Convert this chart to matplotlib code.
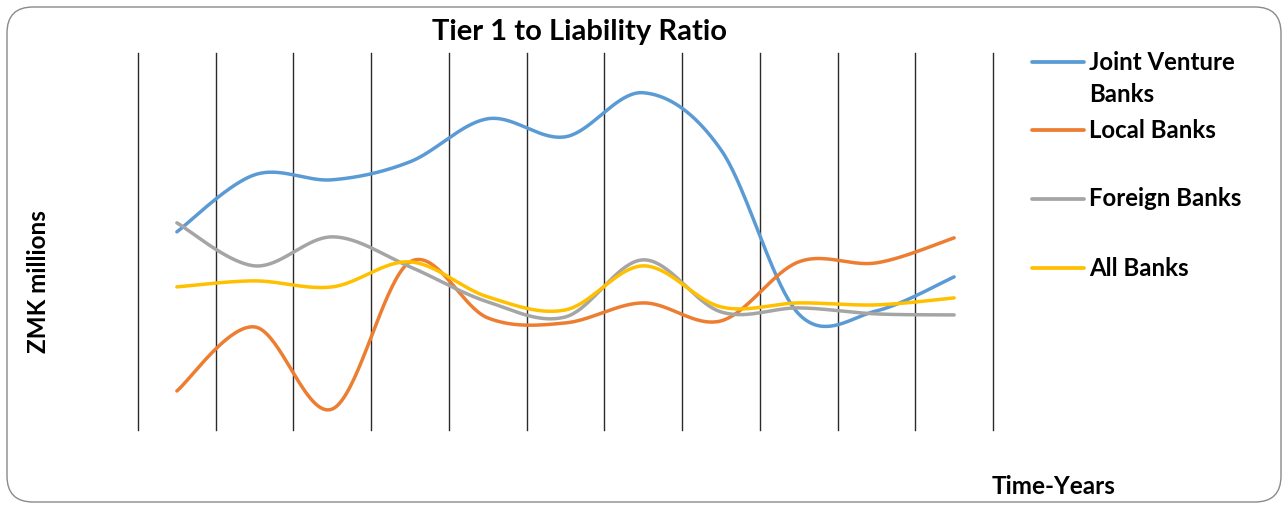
import numpy as np
import matplotlib
matplotlib.use("Agg")
import matplotlib.pyplot as plt
from matplotlib.patches import FancyBboxPatch
from matplotlib.lines import Line2D

# ---- data (arbitrary units; no scale shown) ----
periods = np.arange(11)
joint_venture = [19.8, 25.5, 25.0, 26.8, 31.1, 29.3, 33.7, 28.0, 11.6, 11.9, 15.3]
local_banks   = [3.9, 10.3, 2.1, 16.8, 11.2, 10.7, 12.7, 10.9, 16.8, 16.7, 19.2]
foreign_banks = [20.7, 16.4, 19.3, 16.3, 12.8, 11.3, 17.0, 11.8, 12.2, 11.6, 11.5]
all_banks     = [14.3, 14.9, 14.3, 16.8, 13.3, 12.0, 16.4, 12.3, 12.7, 12.5, 13.2]

series_names = ["Joint Venture\nBanks", "Local Banks", "Foreign Banks", "All Banks"]
series_values = [joint_venture, local_banks, foreign_banks, all_banks]
series_colors = ["#5B9BD5", "#ED7D31", "#A5A5A5", "#FFC000"]

title = "Tier 1 to Liability Ratio"
ylabel = "ZMK millions"
xlabel = "Time-Years"

FONT = ["Lato", "DejaVu Sans"]


def smooth(x, y, n=40):
    pts = np.column_stack([np.asarray(x, float), np.asarray(y, float)])
    m = len(pts)
    out = [pts[0]]
    t = np.linspace(0, 1, n)[1:, None]
    for i in range(m - 1):
        p0 = pts[i - 1] if i > 0 else pts[i]
        p1 = pts[i]
        p2 = pts[i + 1]
        p3 = pts[i + 2] if i + 2 < m else pts[i + 1]
        c1 = p1 + (p2 - p0) / 6.0
        c2 = p2 - (p3 - p1) / 6.0
        seg = ((1 - t) ** 3) * p1 + 3 * ((1 - t) ** 2) * t * c1 + 3 * (1 - t) * t ** 2 * c2 + t ** 3 * p2
        out.extend(seg)
    out = np.array(out)
    return out[:, 0], out[:, 1]


W, H = 1284, 505
fig = plt.figure(figsize=(W / 100, H / 100), dpi=100)
fig.patch.set_facecolor("white")

# rounded outer border
border = FancyBboxPatch((7 / 100, 3 / 100), (1281 - 7) / 100, (498 - 3) / 100,
                        boxstyle="round,pad=0,rounding_size=0.26",
                        transform=fig.dpi_scale_trans, facecolor="none",
                        edgecolor="#8a8a8a", linewidth=1.0, zorder=-1)
fig.patches.append(border)

ax = fig.add_axes([138 / W, 1 - 430 / H, (993 - 138) / W, (430 - 52.7) / H])
ax.set_facecolor("none")
ax.set_xlim(-0.5, 10.5)
ax.set_ylim(0, 37.7)
ax.set_xticks(np.arange(-0.5, 10.6, 1))
ax.set_yticks([])
ax.tick_params(axis="x", length=0, labelbottom=False)
ax.grid(axis="x", color="#2b2b2b", linewidth=1.0)
for gl in ax.get_xgridlines():
    gl.set_clip_on(False)
for s in ax.spines.values():
    s.set_visible(False)

for vals, col in zip(series_values, series_colors):
    sx, sy = smooth(periods, vals)
    ax.plot(sx, sy, color=col, linewidth=2.5, solid_capstyle="round", zorder=3)

fig.text(580 / W, 1 - 32 / H, title, ha="center", va="center",
         fontsize=21, fontweight="bold", family=FONT)
fig.text(38 / W, 1 - 282 / H, ylabel, ha="center", va="center", rotation=90,
         fontsize=17.5, fontweight="bold", family=FONT)
fig.text(1054 / W, 1 - 487 / H, xlabel, ha="center", va="center",
         fontsize=17.5, fontweight="bold", family=FONT)

# legend drawn manually to mimic Excel spacing
leg_y = [62, 130, 199, 268]
for name, col, yy in zip(series_names, series_colors, leg_y):
    fy = 1 - yy / H
    fig.add_artist(Line2D([1032 / W, 1084 / W], [fy, fy], color=col, linewidth=2.7,
                          solid_capstyle="round", transform=fig.transFigure))
    for k, part in enumerate(name.split("\n")):
        fig.text(1089 / W, 1 - (yy + 33 * k) / H, part, ha="left", va="center",
                 fontsize=17.3, fontweight="bold", family=FONT)

fig.savefig("out.png", dpi=100, facecolor="white")
